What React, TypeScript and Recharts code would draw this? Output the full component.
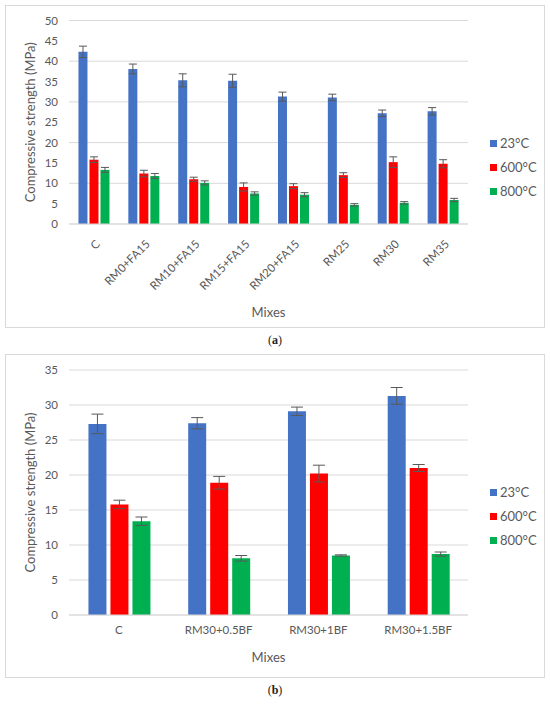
import React from 'react';
import { BarChart, Bar, XAxis, YAxis, CartesianGrid, ErrorBar, Label } from 'recharts';

// (a) mixes with replaced material
const mixesA = ['C', 'RM0+FA15', 'RM10+FA15', 'RM15+FA15', 'RM20+FA15', 'RM25', 'RM30', 'RM35'];
const a23 = [42.3, 38.1, 35.3, 35.2, 31.3, 31.1, 27.2, 27.7];
const a23Err = [1.4, 1.2, 1.6, 1.6, 1.1, 0.8, 0.8, 0.9];
const a600 = [15.8, 12.4, 11.0, 9.1, 9.3, 12.0, 15.2, 14.8];
const a600Err = [0.7, 0.8, 0.5, 1.0, 0.6, 0.6, 1.3, 1.0];
const a800 = [13.3, 11.8, 10.1, 7.5, 7.2, 4.7, 5.2, 5.9];
const a800Err = [0.6, 0.6, 0.5, 0.4, 0.5, 0.3, 0.3, 0.4];
const ticksA = [0, 5, 10, 15, 20, 25, 30, 35, 40, 45, 50];

// (b) basalt fibre mixes
const mixesB = ['C', 'RM30+0.5BF', 'RM30+1BF', 'RM30+1.5BF'];
const b23 = [27.3, 27.4, 29.1, 31.3];
const b23Err = [1.4, 0.8, 0.6, 1.2];
const b600 = [15.8, 18.9, 20.2, 21.0];
const b600Err = [0.6, 0.9, 1.2, 0.5];
const b800 = [13.4, 8.1, 8.5, 8.7];
const b800Err = [0.6, 0.4, 0.1, 0.3];
const ticksB = [0, 5, 10, 15, 20, 25, 30, 35];

const seriesNames = ['23°C', '600°C', '800°C'];
const seriesColors = ['#4472C4', '#FF0000', '#00B050'];

const FONT = 'Lato, "Open Sans", sans-serif';
const GREY = '#595959';
const GRID = '#D9D9D9';

const buildRows = (mixes: string[], s1: number[], e1: number[], s2: number[], e2: number[], s3: number[], e3: number[]) =>
    mixes.map((mix, i) => ({ mix, v23: s1[i], e23: e1[i], v600: s2[i], e600: e2[i], v800: s3[i], e800: e3[i] }));

const dataA = buildRows(mixesA, a23, a23Err, a600, a600Err, a800, a800Err);
const dataB = buildRows(mixesB, b23, b23Err, b600, b600Err, b800, b800Err);

const SlantTick = (props: any) => {
    const { x, y, payload } = props;
    const tx = x + 4;
    const ty = y + 10;
    return (
        <text x={tx} y={ty} dy="0.35em" textAnchor="end" fill={GREY} fontSize={11.5} fontFamily={FONT}
            transform={`rotate(-45, ${tx}, ${ty})`}>
            {payload.value}
        </text>
    );
};

const yTitle = (props: any) => {
    const vb = props.viewBox;
    const cx = vb.x + 25;
    const cy = vb.y + vb.height / 2;
    return (
        <text x={cx} y={cy} textAnchor="middle" dominantBaseline="central" fill={GREY} fontSize={13}
            fontFamily={FONT} transform={`rotate(-90, ${cx}, ${cy})`}>
            Compressive strength (MPa)
        </text>
    );
};

const LegendBox = ({ top }: { top: number }) => (
    <div style={{ position: 'absolute', left: 490, top, fontFamily: FONT, fontSize: 13, color: GREY }}>
        {seriesNames.map((name, i) => (
            <div key={name} style={{ display: 'flex', alignItems: 'center', height: 24 }}>
                <span style={{ width: 7, height: 7, background: seriesColors[i], marginRight: 3 }} />
                <span>{name}</span>
            </div>
        ))}
    </div>
);

const Caption = ({ top, letter }: { top: number; letter: string }) => (
    <div style={{ position: 'absolute', left: 0, width: 550, top, textAlign: 'center',
        fontFamily: '"Liberation Serif", serif', fontSize: 12, color: '#222' }}>
        (<b>{letter}</b>)
    </div>
);

const Bars = (gap: number) => [
    <Bar key="v23" dataKey="v23" fill={seriesColors[0]} isAnimationActive={false}>
        <ErrorBar dataKey="e23" width={gap} stroke={GREY} strokeWidth={1} />
    </Bar>,
    <Bar key="v600" dataKey="v600" fill={seriesColors[1]} isAnimationActive={false}>
        <ErrorBar dataKey="e600" width={gap} stroke={GREY} strokeWidth={1} />
    </Bar>,
    <Bar key="v800" dataKey="v800" fill={seriesColors[2]} isAnimationActive={false}>
        <ErrorBar dataKey="e800" width={gap} stroke={GREY} strokeWidth={1} />
    </Bar>,
];

const frame: React.CSSProperties = {
    position: 'absolute', left: 5, width: 540, boxSizing: 'border-box', border: `1px solid ${GRID}`,
};

const App: React.FC = () => {
    return (
        <div style={{ position: 'absolute', left: 0, top: 0, width: 550, height: 705, background: '#fff' }}>
            <div style={{ ...frame, top: 5, height: 323 }}>
                <div style={{ position: 'absolute', left: -1, top: -1 }}>
                    <BarChart width={540} height={323} data={dataA} barCategoryGap="19%" barGap={2}
                        margin={{ top: 15.5, right: 77, bottom: 4, left: 0 }}>
                        <CartesianGrid vertical={false} stroke={GRID} />
                        <XAxis dataKey="mix" height={100} interval={0} tickLine={false} stroke={GRID}
                            tick={<SlantTick />}>
                            <Label value="Mixes" position="insideBottom" offset={7} fill={GREY} fontSize={13} fontFamily={FONT} />
                        </XAxis>
                        <YAxis width={64} domain={[0, 50]} ticks={ticksA} axisLine={false} tickLine={false}
                            tickSize={0} tickMargin={11} tick={{ fill: GREY, fontSize: 11.5, fontFamily: FONT }}
                            label={{ content: yTitle }} />
                        {Bars(4)}
                    </BarChart>
                </div>
            </div>
            <LegendBox top={131} />
            <Caption top={333} letter="a" />

            <div style={{ ...frame, top: 354, height: 324 }}>
                <div style={{ position: 'absolute', left: -1, top: -1 }}>
                    <BarChart width={540} height={324} data={dataB} barCategoryGap="19.5%" barGap={4}
                        margin={{ top: 16, right: 77, bottom: 3, left: 0 }}>
                        <CartesianGrid vertical={false} stroke={GRID} />
                        <XAxis dataKey="mix" height={60} interval={0} tickLine={false} stroke={GRID}
                            tickSize={0} tickMargin={11} tick={{ fill: GREY, fontSize: 11.5, fontFamily: FONT }}>
                            <Label value="Mixes" position="insideBottom" offset={13} fill={GREY} fontSize={13} fontFamily={FONT} />
                        </XAxis>
                        <YAxis width={64} domain={[0, 35]} ticks={ticksB} axisLine={false} tickLine={false}
                            tickSize={0} tickMargin={11} tick={{ fill: GREY, fontSize: 11.5, fontFamily: FONT }}
                            label={{ content: yTitle }} />
                        {Bars(6)}
                    </BarChart>
                </div>
            </div>
            <LegendBox top={480} />
            <Caption top={683} letter="b" />
        </div>
    );
};

export default App;
